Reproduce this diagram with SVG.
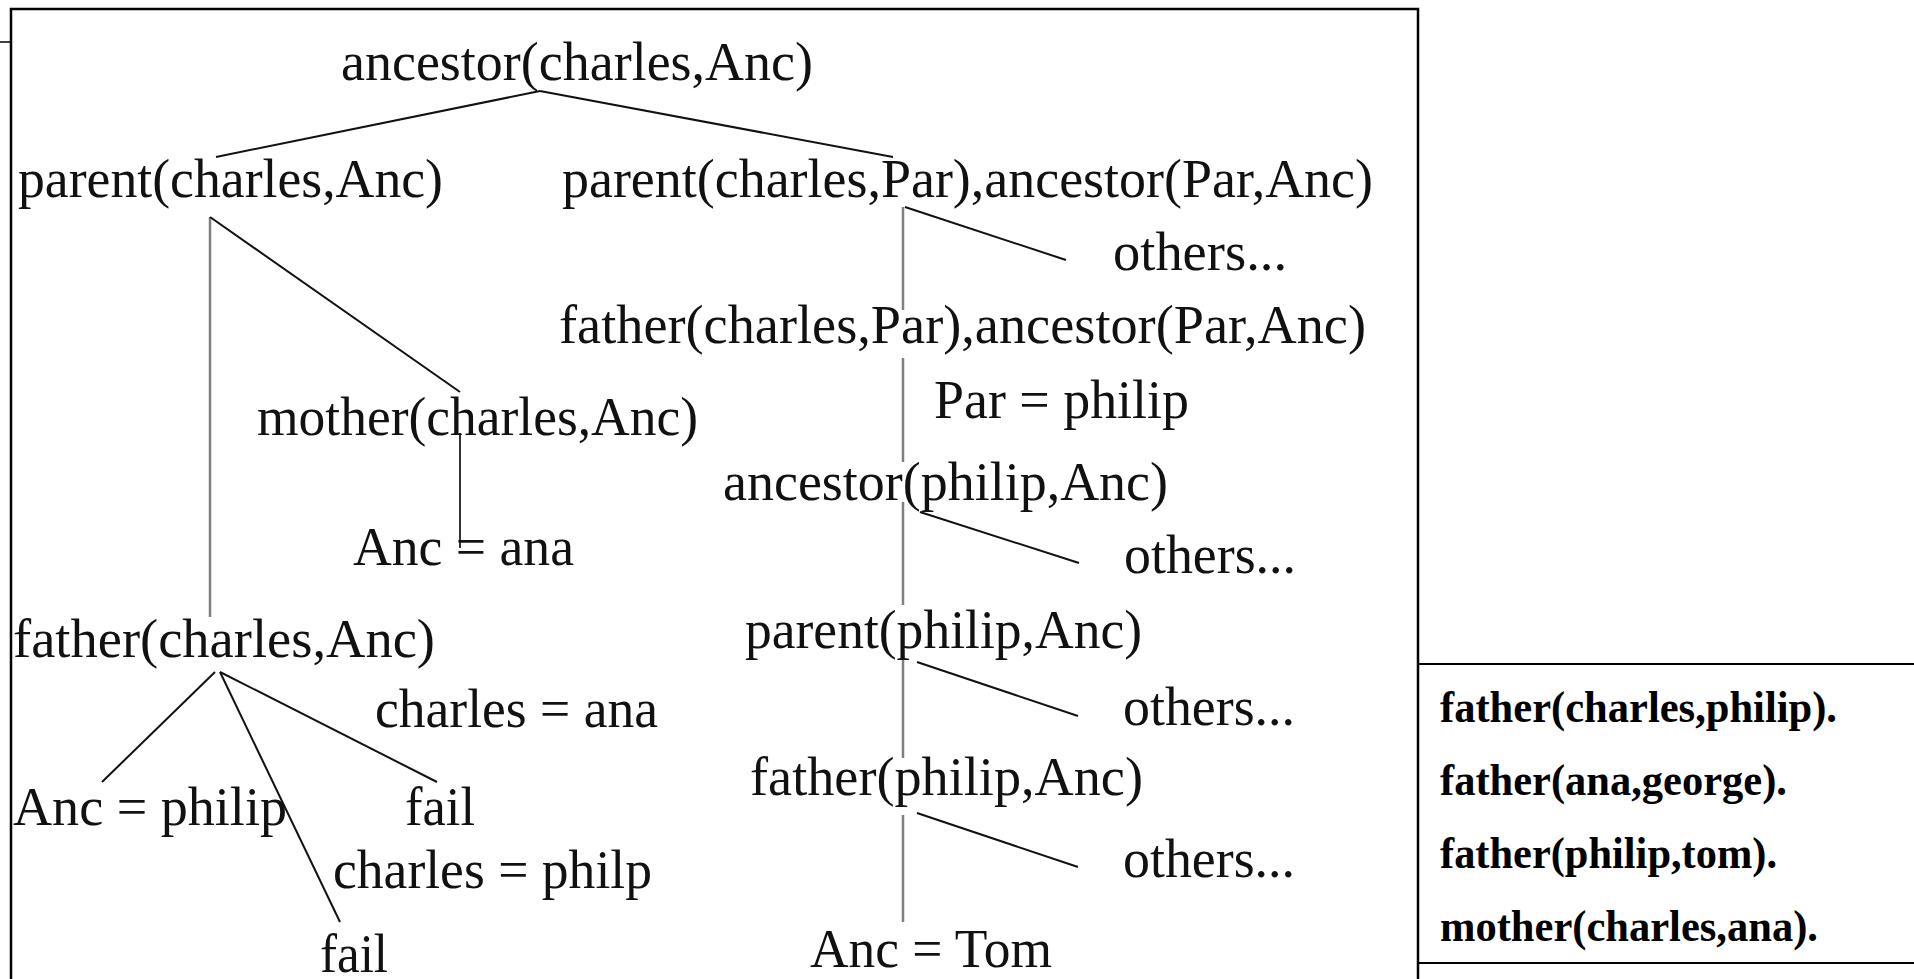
<svg xmlns="http://www.w3.org/2000/svg" width="1914" height="979" viewBox="0 0 1914 979">
<style>
  .t { font-family: "Liberation Serif", "Times New Roman", serif; font-size: 54px; fill: #111; }
  .f { font-family: "Liberation Serif", "Times New Roman", serif; font-size: 45px; font-weight: bold; fill: #000; }
  .e { stroke: #111; stroke-width: 2; fill: none; }
  .g { stroke: #808080; stroke-width: 2.5; fill: none; }
  .d { stroke: #333; stroke-width: 2; fill: none; }
  .frame { stroke: #000; stroke-width: 2.5; fill: none; }
</style>
<rect x="0" y="0" width="1914" height="979" fill="#fff"/>
<g id="frame">
  <path class="frame" d="M11,980 V9 H1418 V980"/>
  <line x1="0" y1="42" x2="10" y2="42" stroke="#000" stroke-width="1.5"/>
</g>
<g id="connectors">
  <line class="e" x1="540" y1="91" x2="216" y2="157"/>
  <line class="e" x1="540" y1="91" x2="893" y2="157"/>
  <line class="g" x1="210" y1="217" x2="210" y2="617"/>
  <line class="e" x1="210" y1="217" x2="460" y2="392"/>
  <line class="d" x1="460" y1="433" x2="460" y2="548"/>
  <line class="g" x1="903" y1="207" x2="903" y2="310"/>
  <line class="g" x1="903" y1="358" x2="903" y2="462"/>
  <line class="g" x1="903" y1="502" x2="903" y2="605"/>
  <line class="g" x1="903" y1="657" x2="903" y2="758"/>
  <line class="g" x1="903" y1="815" x2="903" y2="922"/>
  <line class="e" x1="905" y1="207" x2="1066" y2="260"/>
  <line class="e" x1="920" y1="512" x2="1079" y2="563"/>
  <line class="e" x1="917" y1="662" x2="1078" y2="716"/>
  <line class="e" x1="917" y1="813" x2="1078" y2="867"/>
  <line class="e" x1="215" y1="672" x2="102" y2="782"/>
  <line class="e" x1="220" y1="672" x2="340" y2="922"/>
  <line class="e" x1="220" y1="672" x2="437" y2="782"/>
</g>
<g id="n-root"><text class="t" x="341" y="80" textLength="472" lengthAdjust="spacingAndGlyphs">ancestor(charles,Anc)</text></g>
<g id="n-parent"><text class="t" x="18" y="197" textLength="425" lengthAdjust="spacingAndGlyphs">parent(charles,Anc)</text></g>
<g id="n-parent-anc"><text class="t" x="562" y="197" textLength="811" lengthAdjust="spacingAndGlyphs">parent(charles,Par),ancestor(Par,Anc)</text></g>
<g id="n-others1"><text class="t" x="1113" y="270" textLength="174" lengthAdjust="spacingAndGlyphs">others...</text></g>
<g id="n-father-anc"><text class="t" x="559" y="343" textLength="807" lengthAdjust="spacingAndGlyphs">father(charles,Par),ancestor(Par,Anc)</text></g>
<g id="n-mother"><text class="t" x="257" y="435" textLength="441" lengthAdjust="spacingAndGlyphs">mother(charles,Anc)</text></g>
<g id="n-par-philip"><text class="t" x="934" y="418" textLength="255" lengthAdjust="spacingAndGlyphs">Par = philip</text></g>
<g id="n-ancestor-philip"><text class="t" x="723" y="500" textLength="445" lengthAdjust="spacingAndGlyphs">ancestor(philip,Anc)</text></g>
<g id="n-anc-ana"><text class="t" x="353" y="565" textLength="221" lengthAdjust="spacingAndGlyphs">Anc = ana</text></g>
<g id="n-others2"><text class="t" x="1124" y="573" textLength="172" lengthAdjust="spacingAndGlyphs">others...</text></g>
<g id="n-father"><text class="t" x="13" y="657" textLength="422" lengthAdjust="spacingAndGlyphs">father(charles,Anc)</text></g>
<g id="n-parent-philip"><text class="t" x="745" y="648" textLength="397" lengthAdjust="spacingAndGlyphs">parent(philip,Anc)</text></g>
<g id="n-charles-ana"><text class="t" x="375" y="727" textLength="283" lengthAdjust="spacingAndGlyphs">charles = ana</text></g>
<g id="n-others3"><text class="t" x="1123" y="725" textLength="172" lengthAdjust="spacingAndGlyphs">others...</text></g>
<g id="n-anc-philip"><text class="t" x="13" y="825" textLength="274" lengthAdjust="spacingAndGlyphs">Anc = philip</text></g>
<g id="n-fail1"><text class="t" x="405" y="825" textLength="70" lengthAdjust="spacingAndGlyphs">fail</text></g>
<g id="n-father-philip"><text class="t" x="750" y="795" textLength="393" lengthAdjust="spacingAndGlyphs">father(philip,Anc)</text></g>
<g id="n-charles-philp"><text class="t" x="333" y="888" textLength="319" lengthAdjust="spacingAndGlyphs">charles = philp</text></g>
<g id="n-others4"><text class="t" x="1123" y="877" textLength="172" lengthAdjust="spacingAndGlyphs">others...</text></g>
<g id="n-fail2"><text class="t" x="320" y="972" textLength="68" lengthAdjust="spacingAndGlyphs">fail</text></g>
<g id="n-anc-tom"><text class="t" x="810" y="967" textLength="242" lengthAdjust="spacingAndGlyphs">Anc = Tom</text></g>
<g id="facts">
  <line x1="1418" y1="664" x2="1914" y2="664" stroke="#000" stroke-width="2"/>
  <line x1="1418" y1="963" x2="1914" y2="963" stroke="#000" stroke-width="2"/>
  <text class="f" x="1440" y="722" textLength="397" lengthAdjust="spacingAndGlyphs">father(charles,philip).</text>
  <text class="f" x="1440" y="795" textLength="347" lengthAdjust="spacingAndGlyphs">father(ana,george).</text>
  <text class="f" x="1440" y="868" textLength="337" lengthAdjust="spacingAndGlyphs">father(philip,tom).</text>
  <text class="f" x="1440" y="941" textLength="378" lengthAdjust="spacingAndGlyphs">mother(charles,ana).</text>
</g>
</svg>
